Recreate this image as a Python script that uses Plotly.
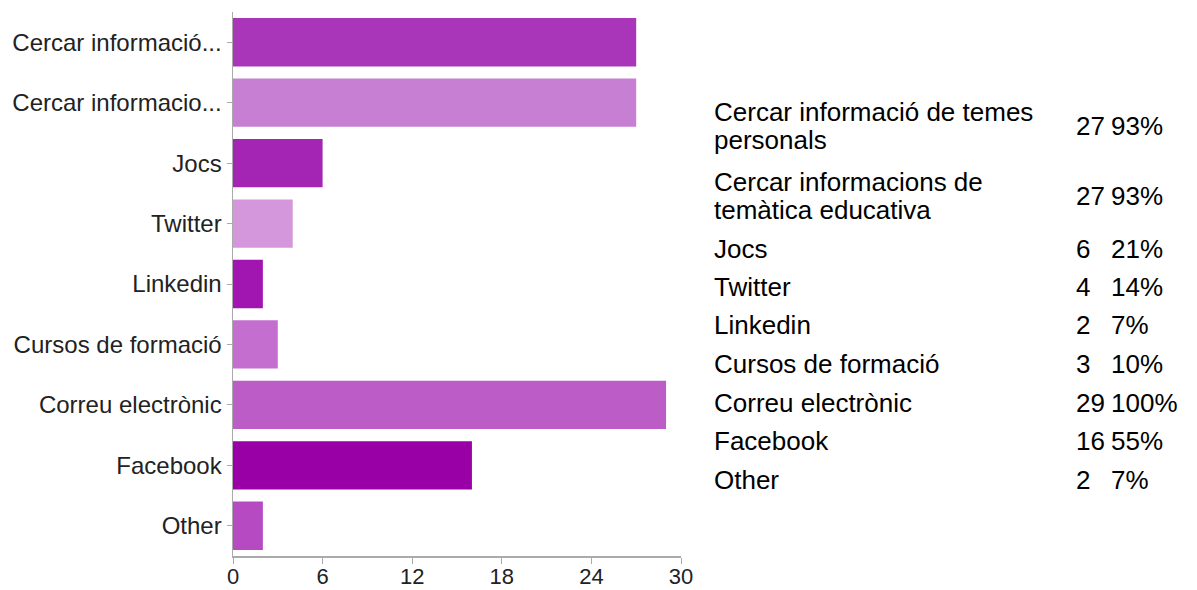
import plotly.graph_objects as go

categories = ["Cercar informació de temes personals",
              "Cercar informacions de temàtica educativa",
              "Jocs", "Twitter", "Linkedin", "Cursos de formació",
              "Correu electrònic", "Facebook", "Other"]
tick_labels = ["Cercar informació...", "Cercar informacio...", "Jocs", "Twitter",
               "Linkedin", "Cursos de formació", "Correu electrònic", "Facebook", "Other"]
counts = [27, 27, 6, 4, 2, 3, 29, 16, 2]
percents = ["93%", "93%", "21%", "14%", "7%", "10%", "100%", "55%", "7%"]
table_lines = [["Cercar informació de temes", "personals"],
               ["Cercar informacions de", "temàtica educativa"],
               ["Jocs"], ["Twitter"], ["Linkedin"], ["Cursos de formació"],
               ["Correu electrònic"], ["Facebook"], ["Other"]]
bar_colors = ["#a936b8", "#c77fd4", "#a424b4", "#d597dc", "#a116b0",
              "#c46fd0", "#bb5cc7", "#9900a6", "#b54ac3"]

W, H = 1197, 650
L, R, T, B = 226, 681, 12, 556
FONT = "Liberation Sans, Arial, sans-serif"

fig = go.Figure()
fig.add_trace(go.Bar(
    y=categories, x=counts, orientation="h",
    marker=dict(color=bar_colors, line=dict(width=0)),
    width=0.8, hoverinfo="x+y", showlegend=False,
))

fig.update_layout(
    width=W, height=H,
    margin=dict(l=L, r=W - R, t=T, b=H - B, pad=0),
    paper_bgcolor="white", plot_bgcolor="white",
    font=dict(family=FONT, color="#222222"),
    xaxis=dict(range=[0, 30], tickvals=[0, 6, 12, 18, 24, 30],
               showgrid=False, zeroline=False, fixedrange=True,
               showline=True, linecolor="#aaaaaa", linewidth=1.5,
               ticks="outside", ticklen=6, tickcolor="#aaaaaa",
               ticklabelstandoff=-6,
               tickfont=dict(size=22, family=FONT, color="#222222")),
    yaxis=dict(categoryorder="array", categoryarray=categories,
               range=[8.5, -0.5], fixedrange=True,
               tickvals=categories, ticktext=tick_labels,
               showgrid=False, zeroline=False,
               showline=True, linecolor="#aaaaaa", linewidth=1.5,
               ticks="outside", ticklen=5, tickcolor="#aaaaaa",
               tickfont=dict(size=24, family=FONT, color="#222222")),
)

# table on the right (pixel rows in reference)
row_y = [126, 196, 249, 287, 325, 364, 403, 441, 480]
LINE_GAP = 28

def px_x(px):
    return (px - L) / (R - L)

def px_y(py):
    return (B - py) / (B - T)

TFONT = dict(size=26, family=FONT, color="#000000")
for lines, c, p, yy in zip(table_lines, counts, percents, row_y):
    n = len(lines)
    for i, ln in enumerate(lines):
        ly = yy + (i - (n - 1) / 2) * LINE_GAP
        fig.add_annotation(x=px_x(712), y=px_y(ly), xref="paper", yref="paper",
                           text=ln, showarrow=False, xanchor="left", yanchor="middle",
                           font=TFONT)
    fig.add_annotation(x=px_x(1080), y=px_y(yy), xref="paper", yref="paper",
                       text=str(c), showarrow=False, xanchor="left", yanchor="middle",
                       font=TFONT)
    fig.add_annotation(x=px_x(1116), y=px_y(yy), xref="paper", yref="paper",
                       text=p, showarrow=False, xanchor="left", yanchor="middle",
                       font=TFONT)

post = ("document.body.style.margin='0';document.body.style.padding='0';"
        "document.body.style.overflow='hidden';")
fig.write_html("out.html", post_script=post,
               config={"displayModeBar": False, "staticPlot": True})
